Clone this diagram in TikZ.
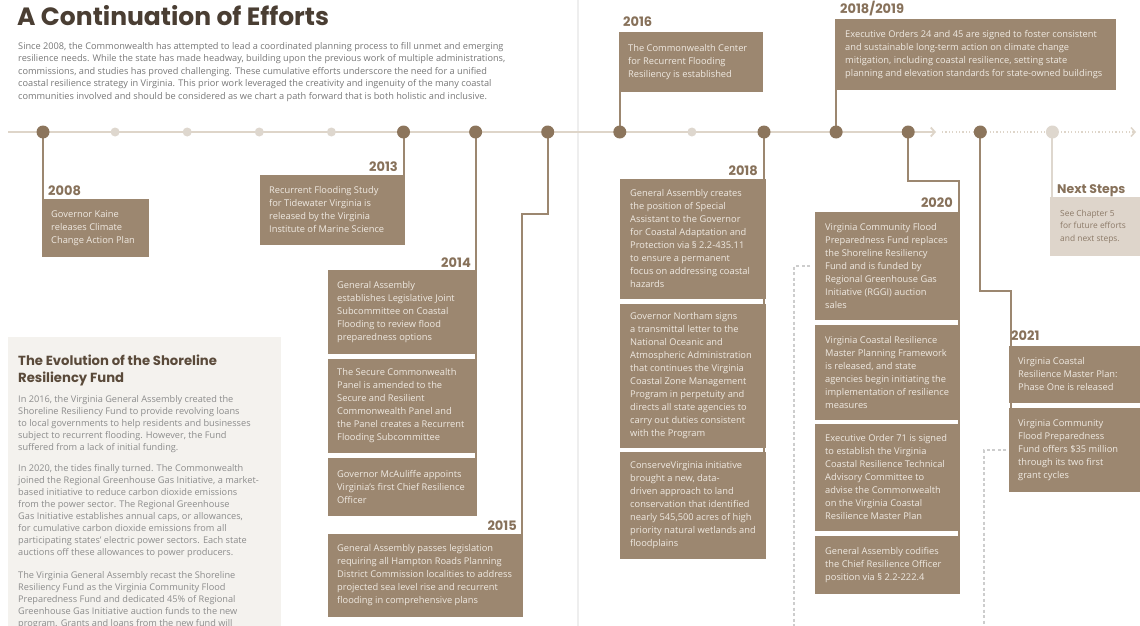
\documentclass[tikz,border=0pt]{standalone}
\usepackage{fontspec}
\setmainfont{Open Sans}
\newfontfamily\headfont{Poppins}
\usetikzlibrary{arrows.meta}
\definecolor{boxbrown}{RGB}{156,135,112}
\definecolor{boxtext}{RGB}{240,234,226}
\definecolor{dotbrown}{RGB}{140,117,92}
\definecolor{tlcol}{RGB}{222,213,201}
\definecolor{smalldot}{RGB}{222,215,206}
\definecolor{yearcol}{RGB}{135,113,90}
\definecolor{titlecol}{RGB}{74,62,51}
\definecolor{introcol}{RGB}{120,120,120}
\definecolor{sbfill}{RGB}{244,242,238}
\definecolor{sbhead}{RGB}{90,74,58}
\definecolor{sbtext}{RGB}{140,140,140}
\definecolor{nsfill}{RGB}{222,213,203}
\definecolor{nstext}{RGB}{140,122,104}
\definecolor{dashcol}{RGB}{205,205,205}
\definecolor{guttercol}{RGB}{238,238,238}
\newcommand\bxfnt{\fontsize{9.3}{13}\selectfont}
\newcommand\yrfnt{\headfont\bfseries\fontsize{13}{15}\selectfont}
\newcommand\ttlfnt{\headfont\bfseries\fontsize{25}{30}\selectfont}
\newcommand\introfnt{\fontsize{9.2}{12.5}\selectfont}
\newcommand\sbfnt{\fontsize{9.2}{12}\selectfont}
\newcommand\sbhfnt{\headfont\bfseries\fontsize{13.2}{16.5}\selectfont}
\begin{document}
\begin{tikzpicture}[x=1pt,y=-1pt,
  bx/.style={rectangle,draw=none,fill=boxbrown,inner sep=0pt,outer sep=0pt,anchor=north west},
  bt/.style={anchor=west,align=left,inner sep=0pt,text=boxtext,font=\bxfnt},
  yr/.style={inner sep=0pt,text=yearcol,font=\yrfnt},
  conn/.style={draw=boxbrown,line width=2pt},
  bigdot/.style={circle,fill=dotbrown,minimum size=13pt,inner sep=0pt},
  smdot/.style={circle,fill=smalldot,minimum size=9pt,inner sep=0pt},
  nsdot/.style={circle,fill=smalldot,minimum size=13pt,inner sep=0pt},
  dsh/.style={draw=dashcol,line width=1.2pt,dash pattern=on 3pt off 2.5pt},
  tip/.style={-{Straight Barb[length=4pt,width=9pt]}}
]
\useasboundingbox (0,0) rectangle (1140,626);
\fill[white] (0,0) rectangle (1140,626);

% gutter
\coordinate (g0) at (578,0);
\coordinate (g1) at (578,626);
\draw[guttercol,line width=2.5pt] (g0) -- (g1);

% title and intro
\node[anchor=base west,inner sep=0pt,font=\ttlfnt,text=titlecol] (ttl) at (17,26) {A Continuation of Efforts};
\node[anchor=north west,inner sep=0pt,align=left,font=\introfnt,text=introcol] (intro) at (18,42)
 {Since 2008, the Commonwealth has attempted to lead a coordinated planning process to fill unmet and emerging\\
  resilience needs. While the state has made headway, building upon the previous work of multiple administrations,\\
  commissions, and studies has proved challenging. These cumulative efforts underscore the need for a unified\\
  coastal resilience strategy in Virginia. This prior work leveraged the creativity and ingenuity of the many coastal\\
  communities involved and should be considered as we chart a path forward that is both holistic and inclusive.};

% sidebar
\node[rectangle,fill=sbfill,inner sep=0pt,outer sep=0pt,anchor=north west,minimum width=273pt,minimum height=300pt] (sb) at (8,337) {};
\node[anchor=north west,inner sep=0pt,align=left,font=\sbhfnt,text=sbhead] (sbh) at (18,355)
 {The Evolution of the Shoreline\\Resiliency Fund};
\node[anchor=north west,inner sep=0pt,align=left,font=\sbfnt,text=sbtext] (sbp1) at (18,395)
 {In 2016, the Virginia General Assembly created the\\
  Shoreline Resiliency Fund to provide revolving loans\\
  to local governments to help residents and businesses\\
  subject to recurrent flooding. However, the Fund\\
  suffered from a lack of initial funding.};
\node[anchor=north west,inner sep=0pt,align=left,font=\sbfnt,text=sbtext] (sbp2) at (18,464)
 {In 2020, the tides finally turned. The Commonwealth\\
  joined the Regional Greenhouse Gas Initiative, a market-\\
  based initiative to reduce carbon dioxide emissions\\
  from the power sector. The Regional Greenhouse\\
  Gas Initiative establishes annual caps, or allowances,\\
  for cumulative carbon dioxide emissions from all\\
  participating states' electric power sectors. Each state\\
  auctions off these allowances to power producers.};
\node[anchor=north west,inner sep=0pt,align=left,font=\sbfnt,text=sbtext] (sbp3) at (18,571)
 {The Virginia General Assembly recast the Shoreline\\
  Resiliency Fund as the Virginia Community Flood\\
  Preparedness Fund and dedicated 45\% of Regional\\
  Greenhouse Gas Initiative auction funds to the new\\
  program. Grants and loans from the new fund will};

% timeline
\coordinate (tl0) at (8,132);
\coordinate (tl1) at (936,132);
\coordinate (tl2) at (942,132);
\coordinate (tl3) at (1136,132);
\draw[tlcol,line width=1.8pt,tip] (tl0) -- (tl1);
\draw[tlcol,line width=1.5pt,dash pattern=on 1.2pt off 2.2pt,tip] (tl2) -- (tl3);

% boxes
\node[bx,minimum width=107pt,minimum height=58pt] (b08) at (42,199) {};
\node[bx,minimum width=145pt,minimum height=70pt] (b13) at (260,175) {};
\node[bx,minimum width=149pt,minimum height=84pt] (b14a) at (328,270) {};
\node[bx,minimum width=149pt,minimum height=94pt] (b14b) at (328,359) {};
\node[bx,minimum width=149pt,minimum height=58pt] (b14c) at (328,458) {};
\node[bx,minimum width=195pt,minimum height=83pt] (b15) at (328,534) {};
\node[bx,minimum width=144pt,minimum height=60pt] (b16) at (619,32) {};
\node[bx,minimum width=281pt,minimum height=71pt] (b1819) at (835,19) {};
\node[bx,minimum width=146pt,minimum height=120pt] (b18a) at (620,179) {};
\node[bx,minimum width=146pt,minimum height=144pt] (b18b) at (620,304) {};
\node[bx,minimum width=146pt,minimum height=107pt] (b18c) at (620,452) {};
\node[bx,minimum width=145pt,minimum height=108pt] (b20a) at (815,212) {};
\node[bx,minimum width=145pt,minimum height=95pt] (b20b) at (815,325) {};
\node[bx,minimum width=145pt,minimum height=107pt] (b20c) at (815,424) {};
\node[bx,minimum width=145pt,minimum height=58pt] (b20d) at (815,536) {};
\node[bx,minimum width=131pt,minimum height=57pt] (b21a) at (1009,346) {};
\node[bx,minimum width=131pt,minimum height=84pt] (b21b) at (1009,408) {};
\node[rectangle,fill=nsfill,inner sep=0pt,outer sep=0pt,anchor=north west,minimum width=90pt,minimum height=59pt] (bNS) at (1050,197) {};

% dot positions
\foreach \k in {0,...,14}
  \coordinate (p\k) at ({43+72.1*\k},132);

% connectors
\coordinate (c15) at (522,214);
\coordinate (c20) at (958.5,181);
\coordinate (c21) at (1010.5,291);
\draw[conn] (p0) -- (p0 |- b08.north);
\draw[conn] (p5) -- (p5 |- b13.north);
\draw[conn] (p6) -- (p6 |- b14c.south);
\draw[conn] (p7) |- (c15) -- (c15 |- b15.north);
\draw[conn] (p8) -- (p8 |- b16.south);
\draw[conn] (p10) -- (p10 |- b18c.south);
\draw[conn] (p11) -- (p11 |- b1819.south);
\draw[conn] (p12) |- (c20) -- (c20 |- b20d.south);
\draw[conn] (p13) |- (c21) -- (c21 |- b21b.south);
\draw[smalldot,line width=2pt] (p14) -- (p14 |- bNS.north);

% dashed links
\coordinate (k1) at (794,266);
\coordinate (k1e) at (794,626);
\coordinate (k2) at (984,450);
\coordinate (k2e) at (984,626);
\draw[dsh] ([xshift=-5pt]b20a.west) -- (k1) -- (k1e);
\draw[dsh] ([xshift=-3pt]b21b.west) -- (k2) -- (k2e);

% dot nodes
\foreach \k/\t in {0/bigdot,1/smdot,2/smdot,3/smdot,4/smdot,5/bigdot,6/bigdot,7/bigdot,8/bigdot,9/smdot,10/bigdot,11/bigdot,12/bigdot,13/bigdot,14/nsdot}
  \node[\t] (d\k) at (p\k) {};

% year labels
\node[yr,anchor=base west] (y08) at (48,195) {2008};
\node[yr,anchor=base east] (y13) at (398,171) {2013};
\node[yr,anchor=base east] (y14) at (471,267) {2014};
\node[yr,anchor=base east] (y15) at (517,530) {2015};
\node[yr,anchor=base west] (y16) at (623,27) {2016};
\node[yr,anchor=base west] (y1819) at (840,14) {2018/2019};
\node[yr,anchor=base east] (y18) at (758,175) {2018};
\node[yr,anchor=base east] (y20) at (953,207) {2020};
\node[yr,anchor=base west] (y21) at (1011,340) {2021};
\node[yr,anchor=base west,font=\headfont\bfseries\fontsize{12.5}{15}\selectfont] (yNS) at (1057,193) {Next Steps};

% box texts
\node[bt] (t08) at ([xshift=9pt]b08.west) {Governor Kaine\\releases Climate\\Change Action Plan};
\node[bt] (t13) at ([xshift=9pt]b13.west) {Recurrent Flooding Study\\for Tidewater Virginia is\\released by the Virginia\\Institute of Marine Science};
\node[bt] (t14a) at ([xshift=9pt]b14a.west) {General Assembly\\establishes Legislative Joint\\Subcommittee on Coastal\\Flooding to review flood\\preparedness options};
\node[bt] (t14b) at ([xshift=9pt]b14b.west) {The Secure Commonwealth\\Panel is amended to the\\Secure and Resilient\\Commonwealth Panel and\\the Panel creates a Recurrent\\Flooding Subcommittee};
\node[bt] (t14c) at ([xshift=9pt]b14c.west) {Governor McAuliffe appoints\\Virginia's first Chief Resilience\\Officer};
\node[bt] (t15) at ([xshift=9pt]b15.west) {General Assembly passes legislation\\requiring all Hampton Roads Planning\\District Commission localities to address\\projected sea level rise and recurrent\\flooding in comprehensive plans};
\node[bt] (t16) at ([xshift=9pt]b16.west) {The Commonwealth Center\\for Recurrent Flooding\\Resiliency is established};
\node[bt] (t1819) at ([xshift=10pt]b1819.west) {Executive Orders 24 and 45 are signed to foster consistent\\and sustainable long-term action on climate change\\mitigation, including coastal resilience, setting state\\planning and elevation standards for state-owned buildings};
\node[bt] (t18a) at ([xshift=10pt]b18a.west) {General Assembly creates\\the position of Special\\Assistant to the Governor\\for Coastal Adaptation and\\Protection via § 2.2-435.11\\to ensure a permanent\\focus on addressing coastal\\hazards};
\node[bt] (t18b) at ([xshift=10pt]b18b.west) {Governor Northam signs\\a transmittal letter to the\\National Oceanic and\\Atmospheric Administration\\that continues the Virginia\\Coastal Zone Management\\Program in perpetuity and\\directs all state agencies to\\carry out duties consistent\\with the Program};
\node[bt] (t18c) at ([xshift=10pt]b18c.west) {ConserveVirginia initiative\\brought a new, data-\\driven approach to land\\conservation that identified\\nearly 545,500 acres of high\\priority natural wetlands and\\floodplains};
\node[bt] (t20a) at ([xshift=10pt]b20a.west) {Virginia Community Flood\\Preparedness Fund replaces\\the Shoreline Resiliency\\Fund and is funded by\\Regional Greenhouse Gas\\Initiative (RGGI) auction\\sales};
\node[bt] (t20b) at ([xshift=10pt]b20b.west) {Virginia Coastal Resilience\\Master Planning Framework\\is released, and state\\agencies begin initiating the\\implementation of resilience\\measures};
\node[bt] (t20c) at ([xshift=10pt]b20c.west) {Executive Order 71 is signed\\to establish the Virginia\\Coastal Resilience Technical\\Advisory Committee to\\advise the Commonwealth\\on the Virginia Coastal\\Resilience Master Plan};
\node[bt] (t20d) at ([xshift=10pt]b20d.west) {General Assembly codifies\\the Chief Resilience Officer\\position via § 2.2-222.4};
\node[bt] (t21a) at ([xshift=9pt]b21a.west) {Virginia Coastal\\Resilience Master Plan:\\Phase One is released};
\node[bt] (t21b) at ([xshift=9pt]b21b.west) {Virginia Community\\Flood Preparedness\\Fund offers \$35 million\\through its two first\\grant cycles};
\node[bt,text=nstext,font=\fontsize{8.4}{12.5}\selectfont] (tNS) at ([xshift=10pt]bNS.west) {See Chapter 5\\for future efforts\\and next steps.};
\end{tikzpicture}
\end{document}
